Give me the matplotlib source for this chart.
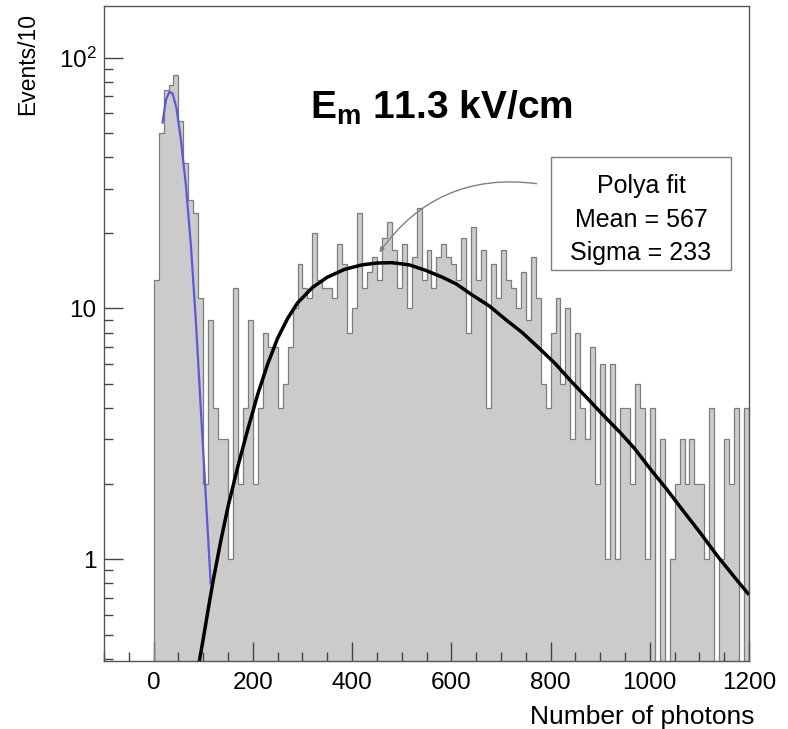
import numpy as np
import matplotlib
matplotlib.use("Agg")
import matplotlib.pyplot as plt
from matplotlib.patches import Rectangle
from matplotlib.ticker import FixedLocator, FixedFormatter, NullFormatter

plt.rcParams['font.family'] = ['Liberation Sans', 'DejaVu Sans']
plt.rcParams['mathtext.fontset'] = 'custom'
plt.rcParams['mathtext.rm'] = 'Liberation Sans'
plt.rcParams['mathtext.bf'] = 'Liberation Sans:bold'
plt.rcParams['mathtext.it'] = 'Liberation Sans:italic'

# ---------------- data ----------------
bin_edges = np.arange(0, 1210, 10)
counts = [
    13, 50, 74, 78, 85, 56, 38, 27, 24, 11,
    2, 9, 4, 3, 3, 1, 12, 2, 4, 9,
    2, 4, 8, 7, 7, 4, 5, 7, 10, 15,
    12, 11, 20, 13, 12, 12, 11, 18, 15, 8,
    10, 24, 12, 14, 16, 13, 19, 22, 17, 12,
    18, 10, 16, 25, 13, 17, 12, 16, 18, 16,
    15, 13, 19, 8, 21, 13, 17, 4, 15, 11,
    17, 13, 12, 10, 14, 9, 16, 11, 5, 4,
    8, 11, 5, 10, 3, 8, 4, 3, 7, 2,
    6, 1, 6, 1, 4, 4, 2, 5, 4, 1,
    4, 0, 3, 0, 1, 2, 3, 2, 3, 2,
    2, 1, 4, 0, 1, 3, 2, 4, 0, 4,
]

# Gaussian fit of the single-electron peak
blue_x = [18, 25, 32, 38, 46, 55, 65, 75, 85, 95, 105, 115]
blue_y = [55, 68, 73, 72, 63, 47, 31, 18, 9.0, 4.0, 1.8, 0.8]

# Polya fit curve
polya_x = [92, 100, 110, 120, 135, 150, 170, 190, 210, 230, 250, 270, 290, 320,
           350, 385, 420, 450, 480, 515, 547, 582, 610, 642, 677, 710, 743, 778,
           810, 840, 873, 906, 940, 970, 1000, 1034, 1068, 1102, 1136, 1170, 1200]
polya_y = [0.39, 0.48, 0.63, 0.82, 1.17, 1.62, 2.35, 3.3, 4.55, 6.0, 7.6, 9.1, 10.5, 12.1,
           13.3, 14.3, 14.9, 15.15, 15.2, 14.9, 14.2, 13.3, 12.5, 11.3, 10.2, 9.0, 8.0, 6.9,
           6.0, 5.15, 4.4, 3.75, 3.2, 2.75, 2.3, 1.9, 1.55, 1.27, 1.03, 0.85, 0.72]

xticks = [0, 200, 400, 600, 800, 1000, 1200]
xtick_labels = ['0', '200', '400', '600', '800', '1000', '1200']
yticks = [1, 10, 100]
ytick_labels = ['1', '10', r'$10^{2}$']

fit_lines = ['Polya fit', 'Mean = 567', 'Sigma = 233']
title_text = r'$\mathbf{E}_{\mathbf{m}}$ 11.3 kV/cm'

# ---------------- figure ----------------
W, H = 788, 729
fig = plt.figure(figsize=(W / 100, H / 100), dpi=100)
L, R, T, B = 104, 749, 6, 661
ax = fig.add_axes([L / W, 1 - B / H, (R - L) / W, (B - T) / H])
ax.set_yscale('log')
ax.set_xlim(-100, 1200)
ax.set_ylim(0.392, 160.5)

cnt = np.asarray(counts, dtype=float)
draw = np.where(cnt > 0, cnt, 1e-3)
ax.stairs(draw, bin_edges, baseline=1e-3, fill=True, color='#cbcbcb', lw=0, zorder=1)
ax.stairs(draw, bin_edges, baseline=1e-3, fill=False, color='#7c7c7c', lw=0.9, zorder=2)

ax.plot(blue_x, blue_y, color='#5a5ad8', lw=1.6, zorder=3)
ax.plot(polya_x, polya_y, color='black', lw=2.5, zorder=4, solid_capstyle='butt',
        solid_joinstyle='round')

# ticks
ax.xaxis.set_major_locator(FixedLocator(xticks))
ax.xaxis.set_major_formatter(FixedFormatter(xtick_labels))
ax.xaxis.set_minor_locator(FixedLocator(np.arange(-100, 1201, 50)))
ax.yaxis.set_major_locator(FixedLocator(yticks))
ax.yaxis.set_major_formatter(FixedFormatter(ytick_labels))
minor_y = [m * 10.0 ** e for e in (-1, 0, 1, 2) for m in range(2, 10)]
ax.yaxis.set_minor_locator(FixedLocator(minor_y))
ax.yaxis.set_minor_formatter(NullFormatter())

ax.tick_params(which='both', direction='in', color='#444444', width=1.0,
               top=False, right=False, labelsize=17.5)
ax.tick_params(which='major', length=13.5)
ax.tick_params(which='minor', length=6.8)
ax.tick_params(axis='x', pad=8)
ax.tick_params(axis='y', pad=5.5)
for s in ax.spines.values():
    s.set_color('#555555')
    s.set_linewidth(1.0)
    s.set_zorder(5)

# axis labels
fig.text(28 / W, 1 - 13 / H, 'Events/10', rotation=90, ha='center', va='top', fontsize=16.5)
fig.text(754 / W, 1 - 724 / H, 'Number of photons', ha='right', va='baseline', fontsize=19)

# title-like annotation
fig.text(310 / W, 1 - 119 / H, title_text, ha='left', va='baseline',
         fontsize=28, fontweight='bold')

# fit box
bx0, by0, bx1, by1 = 551, 157, 731, 270
box = Rectangle(((bx0 - L) / (R - L), (B - by1) / (B - T)), (bx1 - bx0) / (R - L), (by1 - by0) / (B - T),
                transform=ax.transAxes, facecolor='white', edgecolor='#7c7c7c', lw=1.0, zorder=6)
ax.add_patch(box)
cx = ((bx0 + bx1) / 2 - L) / (R - L)
for i, line in enumerate(fit_lines):
    yy = 186 + 33.5 * i
    ax.text(cx, (B - yy) / (B - T), line, transform=ax.transAxes, ha='center', va='center',
            fontsize=18, zorder=7)

# arrow from box to peak of distribution
ax.annotate('', xy=(455, 16.7), xytext=(772, 31.4),
            arrowprops=dict(arrowstyle='-|>', color='#808080', lw=1.0,
                            connectionstyle='arc3,rad=0.3', mutation_scale=7,
                            shrinkA=0, shrinkB=0), zorder=6)

fig.savefig('out.png', dpi=100)
